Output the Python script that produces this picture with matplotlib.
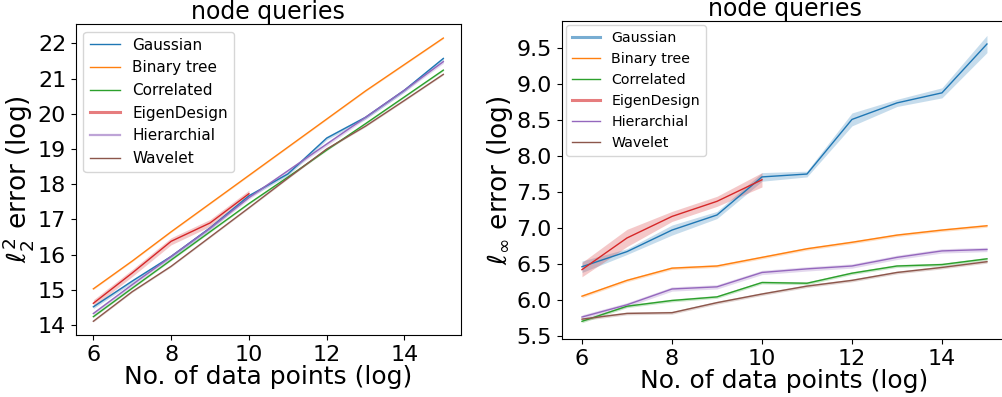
import numpy as np
import matplotlib
matplotlib.use("Agg")
import matplotlib.pyplot as plt

x = [6, 7, 8, 9, 10, 11, 12, 13, 14, 15]
x_eig = [6, 7, 8, 9, 10]
names = ["Gaussian", "Binary tree", "Correlated", "EigenDesign", "Hierarchial", "Wavelet"]
colors = ["#1f77b4", "#ff7f0e", "#2ca02c", "#d62728", "#9467bd", "#8c564b"]

# left panel: l2^2 error (log)
l2_gauss = [14.52, 15.25, 15.95, 16.76, 17.67, 18.29, 19.31, 19.9, 20.67, 21.57]
l2_binary = [15.03, 15.82, 16.65, 17.45, 18.25, 19.05, 19.85, 20.65, 21.4, 22.15]
l2_corr = [14.24, 15.05, 15.85, 16.65, 17.45, 18.2, 18.97, 19.72, 20.48, 21.24]
l2_eig = [14.62, 15.48, 16.38, 16.9, 17.73]
l2_hier = [14.33, 15.15, 15.95, 16.75, 17.62, 18.38, 19.14, 19.9, 20.67, 21.48]
l2_wave = [14.11, 14.95, 15.67, 16.5, 17.33, 18.17, 19.0, 19.65, 20.38, 21.12]
l2_ci = [0.05, 0.02, 0.02, 0.1, 0.05, 0.02]

# right panel: l_inf error (log)
li_gauss = [6.46, 6.67, 6.97, 7.18, 7.71, 7.75, 8.51, 8.74, 8.88, 9.56]
li_binary = [6.05, 6.27, 6.44, 6.47, 6.59, 6.71, 6.80, 6.90, 6.97, 7.03]
li_corr = [5.70, 5.91, 5.99, 6.04, 6.24, 6.23, 6.37, 6.47, 6.49, 6.57]
li_eig = [6.42, 6.86, 7.16, 7.37, 7.67]
li_hier = [5.76, 5.93, 6.15, 6.18, 6.38, 6.43, 6.47, 6.59, 6.68, 6.70]
li_wave = [5.73, 5.81, 5.82, 5.96, 6.08, 6.19, 6.27, 6.38, 6.45, 6.53]
li_ci_gauss = [0.08, 0.04, 0.07, 0.05, 0.06, 0.04, 0.09, 0.05, 0.07, 0.12]
li_ci_eig = [0.1, 0.12, 0.07, 0.07, 0.1]
li_ci_other = [0.02, 0.02, 0.03, 0.02]  # binary, corr, hier, wave

fig = plt.figure(figsize=(10.02, 3.97), dpi=100)
ax1 = fig.add_axes([0.0757, 0.1562, 0.3842, 0.7834])
ax2 = fig.add_axes([0.5606, 0.1461, 0.4446, 0.801])


def draw(ax, series):
    for i, (xs, ys, ci) in enumerate(series):
        ys = np.asarray(ys)
        ci = np.broadcast_to(np.asarray(ci, dtype=float), ys.shape)
        ax.plot(xs, ys, color=colors[i], lw=1.0, label=names[i])
        ax.fill_between(xs, ys - ci, ys + ci, color=colors[i], alpha=0.25, lw=0)


s1 = [(x, l2_gauss, l2_ci[0]), (x, l2_binary, l2_ci[1]), (x, l2_corr, l2_ci[2]),
      (x_eig, l2_eig, l2_ci[3]), (x, l2_hier, l2_ci[4]), (x, l2_wave, l2_ci[5])]
draw(ax1, s1)
s2 = [(x, li_gauss, li_ci_gauss), (x, li_binary, li_ci_other[0]), (x, li_corr, li_ci_other[1]),
      (x_eig, li_eig, li_ci_eig), (x, li_hier, li_ci_other[2]), (x, li_wave, li_ci_other[3])]
draw(ax2, s2)

ax1.set_xlim(5.55, 15.45)
ax1.set_ylim(13.72, 22.55)
ax2.set_xlim(5.55, 15.45)
ax2.set_ylim(5.454, 9.88)
ax1.set_xticks([6, 8, 10, 12, 14])
ax2.set_xticks([6, 8, 10, 12, 14])
ax1.set_yticks(range(14, 23))
ax2.set_yticks(np.arange(5.5, 9.51, 0.5))

for ax in (ax1, ax2):
    ax.tick_params(labelsize=16)
    ax.set_title("node queries", fontsize=17, pad=2)
    ax.set_xlabel("No. of data points (log)", fontsize=18, labelpad=0)

ax1.set_ylabel(r"$\ell_2^2$ error (log)", fontsize=19, labelpad=1)
ax2.set_ylabel(r"$\ell_\infty$ error (log)", fontsize=19, labelpad=1)

leg1 = ax1.legend(loc="upper left", fontsize=11)
leg2 = ax2.legend(loc="upper left", fontsize=10.2, borderaxespad=0.3)
for h in leg1.legend_handles:
    h.set_linewidth(1.0)
leg1.legend_handles[3].set_linewidth(2.2)
leg1.legend_handles[3].set_alpha(0.6)
leg1.legend_handles[4].set_linewidth(1.6)
leg1.legend_handles[4].set_alpha(0.6)
leg2.legend_handles[0].set_linewidth(2.2)
leg2.legend_handles[0].set_alpha(0.6)
leg2.legend_handles[3].set_linewidth(2.2)
leg2.legend_handles[3].set_alpha(0.6)

fig.savefig("out.png", dpi=100)
